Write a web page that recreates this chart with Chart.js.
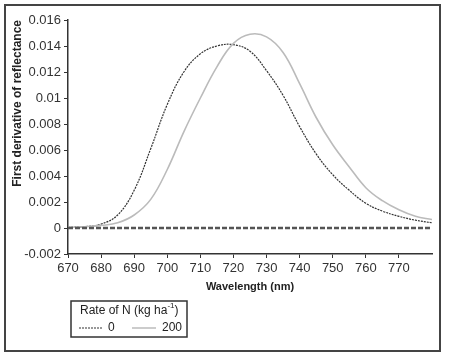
<!DOCTYPE html>
<html>
<head>
<meta charset="utf-8">
<script src="https://cdn.jsdelivr.net/npm/chart.js@4"></script>
<style>
  body { margin: 0; background: #fff; }
  #wrap { position: relative; width: 450px; height: 358px; }
</style>
</head>
<body>
<div id="wrap"><canvas id="myChart"></canvas></div>
<script>
const wavelengths = [670,675,680,685,690,695,700,705,710,715,720,725,730,735,740,745,750,755,760,765,770,775,780];
const rate0   = [0.00005,0.0001,0.0003,0.001,0.0029,0.0061,0.0095,0.0120,0.0134,0.0140,0.0141,0.0136,0.0121,0.0102,0.0078,0.0057,0.0041,0.0029,0.0019,0.0013,0.0009,0.0006,0.0004];
const rate200 = [0.00005,0.0001,0.0002,0.0004,0.0010,0.0022,0.0045,0.0074,0.0100,0.0124,0.0142,0.0149,0.0147,0.0135,0.0111,0.0085,0.0064,0.0047,0.0031,0.0021,0.0014,0.0009,0.00065];
const zeroLine = wavelengths.map(() => 0);
const yTickLabels = ['-0.002','0','0.002','0.004','0.006','0.008','0.01','0.012','0.014','0.016'];
const seriesNames = ['0','200'];

const FONT = '"Liberation Sans", Arial, sans-serif';

function pts(vals) {
  return wavelengths.map((w, i) => ({x: w, y: vals[i]}));
}

// outer frame + legend box drawn by hand
const framePlugin = {
  id: 'frame',
  afterDraw(chart) {
    const c = chart.ctx;
    c.save();
    c.strokeStyle = '#444';
    c.lineWidth = 2;
    c.strokeRect(5, 5, 435, 346);

    // legend
    c.lineWidth = 1.5;
    c.strokeStyle = '#333';
    c.strokeRect(71, 301, 116, 36);
    c.fillStyle = '#222';
    c.textBaseline = 'middle';
    c.font = '12px ' + FONT;
    c.fillText('Rate of N (kg ha', 80, 311);
    let w = c.measureText('Rate of N (kg ha').width;
    c.font = '8px ' + FONT;
    c.fillText('-1', 80 + w, 306);
    let w2 = c.measureText('-1').width;
    c.font = '12px ' + FONT;
    c.fillText(')', 80 + w + w2, 311);

    c.lineWidth = 1.2;
    c.strokeStyle = '#333';
    c.setLineDash([2, 1]);
    c.beginPath(); c.moveTo(79, 328); c.lineTo(102, 328); c.stroke();
    c.setLineDash([]);
    c.strokeStyle = '#bbb';
    c.lineWidth = 1.5;
    c.beginPath(); c.moveTo(132, 328); c.lineTo(156, 328); c.stroke();
    c.fillText(seriesNames[0], 108, 328);
    c.fillText(seriesNames[1], 162, 328);
    c.restore();
  }
};

new Chart(document.getElementById('myChart'), {
  type: 'line',
  data: {
    datasets: [
      {
        label: 'zero',
        data: pts(zeroLine),
        borderColor: '#555',
        borderWidth: 2.5,
        borderDash: [5, 2],
        pointRadius: 0
      },
      {
        label: seriesNames[1],
        data: pts(rate200),
        borderColor: '#bbb',
        borderWidth: 1.6,
        pointRadius: 0,
        tension: 0.4
      },
      {
        label: seriesNames[0],
        data: pts(rate0),
        borderColor: '#333',
        borderWidth: 1.2,
        borderDash: [2, 1],
        pointRadius: 0,
        tension: 0.4
      }
    ]
  },
  options: {
    responsive: true,
    maintainAspectRatio: false,
    animation: false,
    layout: {
      padding: {top: 20, right: 18, bottom: 64, left: 10}
    },
    plugins: {
      legend: {display: false},
      tooltip: {enabled: false}
    },
    scales: {
      x: {
        type: 'linear',
        min: 670,
        max: 780,
        afterFit: (s) => { s.height = 40; },
        border: {display: true, color: '#333', width: 1.5},
        grid: {display: true, drawOnChartArea: false, drawTicks: true, tickLength: 4, color: '#333'},
        ticks: {
          stepSize: 10,
          color: '#333',
          padding: 3,
          maxRotation: 0,
          font: {family: FONT, size: 13},
          callback: (v) => v === 780 ? null : String(v)
        },
        title: {
          display: true,
          text: 'Wavelength (nm)',
          color: '#222',
          padding: {top: 2, bottom: 0},
          font: {family: FONT, size: 11, weight: 'bold'}
        }
      },
      y: {
        min: -0.002,
        max: 0.016,
        afterFit: (s) => { s.width = 58; },
        border: {display: true, color: '#333', width: 1.5},
        grid: {display: true, drawOnChartArea: false, drawTicks: true, tickLength: 4, color: '#333'},
        ticks: {
          stepSize: 0.002,
          color: '#333',
          padding: 3,
          font: {family: FONT, size: 13},
          callback: (v, i) => yTickLabels[i]
        },
        title: {
          display: true,
          text: 'First derivative of reflectance',
          align: 'end',
          color: '#222',
          padding: {top: 0, bottom: 3},
          font: {family: FONT, size: 12, weight: 'bold'}
        }
      }
    }
  },
  plugins: [framePlugin]
});
</script>
</body>
</html>
